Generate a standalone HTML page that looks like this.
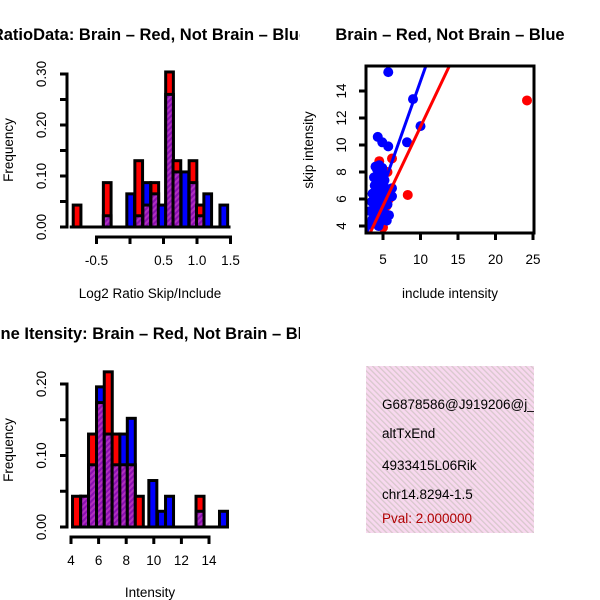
<!DOCTYPE html>
<html><head><meta charset="utf-8">
<style>
html,body{margin:0;padding:0;background:#fff;}
svg{display:block;font-family:"Liberation Sans",Arial,sans-serif;}
</style></head>
<body>
<svg id="fig" width="600" height="600" viewBox="0 0 600 600" xmlns="http://www.w3.org/2000/svg">
<defs>
<pattern id="purp" patternUnits="userSpaceOnUse" width="4" height="4" patternTransform="rotate(45)">
<rect width="4" height="4" fill="#8a10b0"/><rect width="2" height="4" fill="#b030c0"/>
</pattern>
<pattern id="pink" patternUnits="userSpaceOnUse" width="4" height="4" patternTransform="rotate(-45)">
<rect width="4" height="4" fill="#f8d8ef"/><rect width="1.3" height="4" fill="#d8c8cc"/>
</pattern>
<clipPath id="cl"><rect x="0" y="0" width="300" height="600"/></clipPath>
<clipPath id="cr"><rect x="300" y="0" width="300" height="600"/></clipPath>
<clipPath id="cr2"><rect x="300" y="0" width="234" height="600"/></clipPath>
<clipPath id="plot2"><rect x="366" y="66" width="168" height="167"/></clipPath>
</defs>
<g id="p1"></g>
<g id="p2"></g>
<g id="p3"></g>
<g id="p4">
<rect x="366" y="366" width="168" height="167" fill="url(#pink)"/>
<g clip-path="url(#cr2)" font-size="13.5">
<text x="382" y="409">G6878586@J919206@j_</text>
<text x="382" y="438">altTxEnd</text>
<text x="382" y="470">4933415L06Rik</text>
<text x="382" y="499">chr14.8294-1.5</text>
<text x="382" y="523" fill="#b00000">Pval: 2.000000</text>
</g>
</g>
</svg>
<script>
// ---- Panel 1 data: log2 ratio histogram ----
const ratioBinCenters = [-0.79,-0.34,0.01,0.13,0.25,0.37,0.48,0.59,0.70,0.82,0.94,1.05,1.16,1.40];
const ratioRed  = [0.043,0.087,0,0.13,0.043,0.087,0,0.304,0.13,0,0.13,0.043,0,0];
const ratioBlue = [0,0.022,0.065,0.022,0.087,0.065,0.043,0.26,0.108,0.108,0.087,0.022,0.065,0.043];
const ratioXTicks = [-0.5,0,0.5,1.0,1.5];
const ratioXLabels = ["-0.5","","0.5","1.0","1.5"];
const ratioYTicks = [0,0.05,0.10,0.15,0.20,0.25,0.30];
const ratioYLabels = ["0.00","","0.10","","0.20","","0.30"];
// ---- Panel 3 data: intensity histogram ----
const intBinCenters = [4.40,4.99,5.56,6.14,6.70,7.27,7.83,8.37,8.95,9.93,10.56,11.14,13.35,15.05];
const intRed  = [0.043,0.043,0.13,0.174,0.217,0.13,0.087,0.087,0.043,0,0,0,0.043,0];
const intBlue = [0,0.043,0.087,0.196,0.13,0.087,0.13,0.152,0,0.065,0.022,0.043,0.022,0.022];
const intXTicks = [4,6,8,10,12,14];
const intYTicks = [0,0.05,0.10,0.15,0.20];
const intYLabels = ["0.00","","0.10","","0.20"];
// ---- Panel 2 data: scatter ----
const redX = [24.2,8.3,5.0,6.2,5.5,5.8,4.5,4.8,4.2,5.2,4.9,5.6,4.4];
const redY = [13.3,6.3,3.9,9.0,5.5,6.0,8.8,7.0,6.0,5.0,4.5,8.0,7.6];
const blueX = [5.7,9.0,10.0,4.3,4.9,5.7,8.2,6.2,6.2,5.5,5.9,4.0,4.2,4.5,4.7,4.9,5.1,3.8,4.1,4.4,4.6,4.8,5.0,5.2,3.9,4.2,4.5,4.8,5.1,5.3,3.6,4.0,4.3,4.6,4.9,3.5,3.8,4.1,4.4,4.7,5.0,3.3,3.7,4.0,4.3,4.6,4.9,5.2,3.6,3.9,4.2,4.5,4.8,5.4,5.8,5.6,3.2,4.4];
const blueY = [15.4,13.4,11.4,10.6,10.2,9.9,10.2,6.8,6.2,4.4,6.5,8.4,8.2,8.5,8.0,8.3,7.8,7.6,7.4,7.7,7.3,7.6,7.9,7.4,7.0,6.8,7.1,6.7,7.0,6.6,6.4,6.2,6.5,6.1,6.4,5.8,5.6,5.9,5.5,5.8,5.3,5.1,5.0,5.3,4.9,5.2,4.7,4.9,4.5,4.3,4.6,4.2,4.5,4.6,4.8,5.6,4.1,4.0];
const redFit = [-0.35,1.17];   // intercept, slope
const blueFit = [-0.97,1.57];
const scX = [5,10,15,20,25];
const scY = [4,6,8,10,12,14];

const FS='13.5', TFS='16.5';
const NS="http://www.w3.org/2000/svg";
function mk(parent,tag,attrs){const e=document.createElementNS(NS,tag);for(const k in attrs)e.setAttribute(k,attrs[k]);parent.appendChild(e);return e;}
function txt(parent,x,y,s,attrs){const e=mk(parent,'text',Object.assign({x:x,y:y},attrs||{}));e.textContent=s;return e;}

function hist(g,clip,o){
  const cg=mk(g,'g',{'clip-path':'url(#'+clip+')'});
  const X=v=>o.x0+(v-o.xv0)*o.xs, Y=v=>o.y0-v*o.ys;
  const t=txt(cg,150,o.titleY,o.title,{'font-size':TFS,'font-weight':'bold','text-anchor':'middle'});
  
  
  const bw=o.bw*o.xs;
  o.centers.forEach((c,i)=>{
    const r=o.red[i],b=o.blue[i],mx=Math.max(r,b),mn=Math.min(r,b);
    if(mx<=0)return;
    const x=X(c)-bw/2;
    const outer=mk(g,'rect',{x:x,y:Y(mx),width:bw,height:Y(0)-Y(mx),fill:r>=b?'#ff0000':'#0000ff',stroke:'#000','stroke-width':3});
    
    
    if(mn>0){const inn=mk(g,'rect',{x:x,y:Y(mn),width:bw,height:Y(0)-Y(mn),fill:'url(#purp)',stroke:'#000','stroke-width':3});
      
      }
  });
  mk(g,'line',{x1:X(o.xr[0]),x2:X(o.xr[1]),y1:Y(0),y2:Y(0),stroke:'#000','stroke-width':3});
  const ya=mk(g,'g',{});  
  mk(ya,'line',{x1:67,x2:67,y1:Y(o.yt[0])+1.5,y2:Y(o.yt[o.yt.length-1])-1.5,stroke:'#000','stroke-width':3});
  o.yt.forEach((v,i)=>{mk(ya,'line',{x1:60,x2:67,y1:Y(v),y2:Y(v),stroke:'#000','stroke-width':3});
    if(o.yl[i])txt(ya,0,0,o.yl[i],{'font-size':FS,'text-anchor':'middle',transform:'translate(46,'+Y(v)+') rotate(-90)'});});
  const xa=mk(g,'g',{});  
  const ay=Y(0)+10;
  mk(xa,'line',{x1:X(o.xt[0])-1.5,x2:X(o.xt[o.xt.length-1])+1.5,y1:ay,y2:ay,stroke:'#000','stroke-width':3});
  o.xt.forEach((v,i)=>{mk(xa,'line',{x1:X(v),x2:X(v),y1:ay,y2:ay+7,stroke:'#000','stroke-width':3});
    if(o.xl[i])txt(xa,X(v),ay+28,o.xl[i],{'font-size':FS,'text-anchor':'middle'});});
  const xl=txt(g,150,o.xlabY,o.xlab,{'font-size':FS,'text-anchor':'middle'});
   
  const yl=txt(g,0,0,'Frequency',{'font-size':FS,'text-anchor':'middle',transform:'translate(13,'+o.ylabMid+') rotate(-90)'});
   
}
hist(document.getElementById('p1'),'cl',{x0:130,xv0:0,xs:67,y0:227,ys:510,bw:0.115,centers:ratioBinCenters,red:ratioRed,blue:ratioBlue,
  xr:[-0.9,1.5],xt:ratioXTicks,xl:ratioXLabels,yt:ratioYTicks,yl:ratioYLabels,title:'RatioData: Brain \u2013 Red, Not Brain \u2013 Blue',titleY:40,
  xlab:'Log2 Ratio Skip/Include',xlabY:298,ylabMid:150});
hist(document.getElementById('p3'),'cl',{x0:71,xv0:4,xs:13.8,y0:527,ys:715,bw:0.58,centers:intBinCenters,red:intRed,blue:intBlue,
  xr:[4.05,15.4],xt:intXTicks,xl:intXTicks.map(String),yt:intYTicks,yl:intYLabels,title:'Gene Itensity: Brain \u2013 Red, Not Brain \u2013 Blue',titleY:339,
  xlab:'Intensity',xlabY:597,ylabMid:450});

(function(){
  const g=document.getElementById('p2');
  const X=v=>383+(v-5)*7.5, Y=v=>226-(v-4)*13.5;
  const t=txt(g,450,40,'Brain \u2013 Red, Not Brain \u2013 Blue',{'font-size':TFS,'font-weight':'bold','text-anchor':'middle'});
   
  const pg=mk(g,'g',{'clip-path':'url(#plot2)'});
  redX.forEach((x,i)=>{const c=mk(pg,'circle',{cx:X(x),cy:Y(redY[i]),r:5,fill:'#ff0000'});
     });
  blueX.forEach((x,i)=>{const c=mk(pg,'circle',{cx:X(x),cy:Y(blueY[i]),r:5,fill:'#0000ff'});
     });
  const fl=(f,col,nm)=>{const l=mk(pg,'line',{x1:X(0),y1:Y(f[0]),x2:X(30),y2:Y(f[0]+f[1]*30),stroke:col,'stroke-width':3});
     };
  fl(redFit,'#ff0000','fit-line-brain'); fl(blueFit,'#0000ff','fit-line-not-brain');
  mk(g,'rect',{x:366,y:66,width:168,height:167,fill:'none',stroke:'#000','stroke-width':3});
  const xa=mk(g,'g',{});  
  scX.forEach(v=>{mk(xa,'line',{x1:X(v),x2:X(v),y1:233,y2:240,stroke:'#000','stroke-width':3});
    txt(xa,X(v),264,String(v),{'font-size':FS,'text-anchor':'middle'});});
  const ya=mk(g,'g',{});  
  scY.forEach(v=>{mk(ya,'line',{x1:359,x2:366,y1:Y(v),y2:Y(v),stroke:'#000','stroke-width':3});
    txt(ya,0,0,String(v),{'font-size':FS,'text-anchor':'middle',transform:'translate(346,'+Y(v)+') rotate(-90)'});});
  const xl=txt(g,450,298,'include intensity',{'font-size':FS,'text-anchor':'middle'});
   
  const yl=txt(g,0,0,'skip intensity',{'font-size':FS,'text-anchor':'middle',transform:'translate(313,150) rotate(-90)'});
   
})();
</script>
</body></html>
